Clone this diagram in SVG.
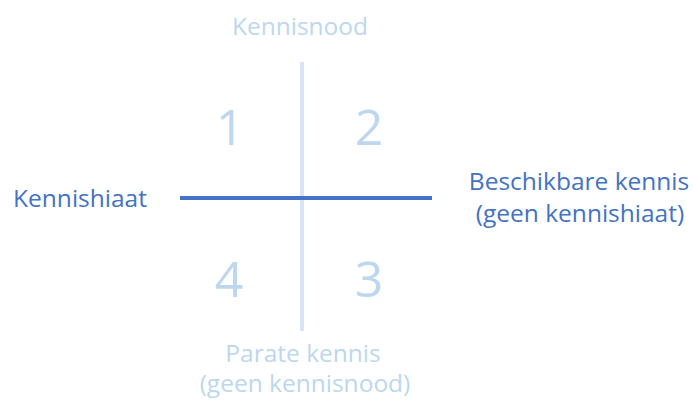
<svg xmlns="http://www.w3.org/2000/svg" width="694" height="400" viewBox="0 0 694 400">
<style>
text{font-family:"Open Sans","Liberation Sans",sans-serif;text-anchor:middle}
.light{fill:#BDD7EE;font-size:24.5px}
.dark{fill:#4472C4;font-size:24.5px}
.num{fill:#BDD7EE;font-size:50px}
</style>
<rect width="694" height="400" fill="#fff"/>
<g id="axes">
<line x1="302" y1="62" x2="302" y2="331" stroke="#DAE3F3" stroke-width="4"/>
<line x1="180" y1="198" x2="432" y2="198" stroke="#4472C4" stroke-width="4"/>
</g>
<g id="top"><text class="light" x="300" y="35">Kennisnood</text></g>
<g id="left"><text class="dark" x="80" y="207">Kennishiaat</text></g>
<g id="right"><text class="dark" x="579" y="190">Beschikbare kennis</text><text class="dark" x="580" y="222">(geen kennishiaat)</text></g>
<g id="bottom"><text class="light" x="303" y="362">Parate kennis</text><text class="light" x="305" y="392">(geen kennisnood)</text></g>
<g id="q1"><text class="num" x="230" y="145">1</text></g>
<g id="q2"><text class="num" x="369" y="145">2</text></g>
<g id="q3"><text class="num" x="369" y="297">3</text></g>
<g id="q4"><text class="num" x="229" y="297">4</text></g>
</svg>
